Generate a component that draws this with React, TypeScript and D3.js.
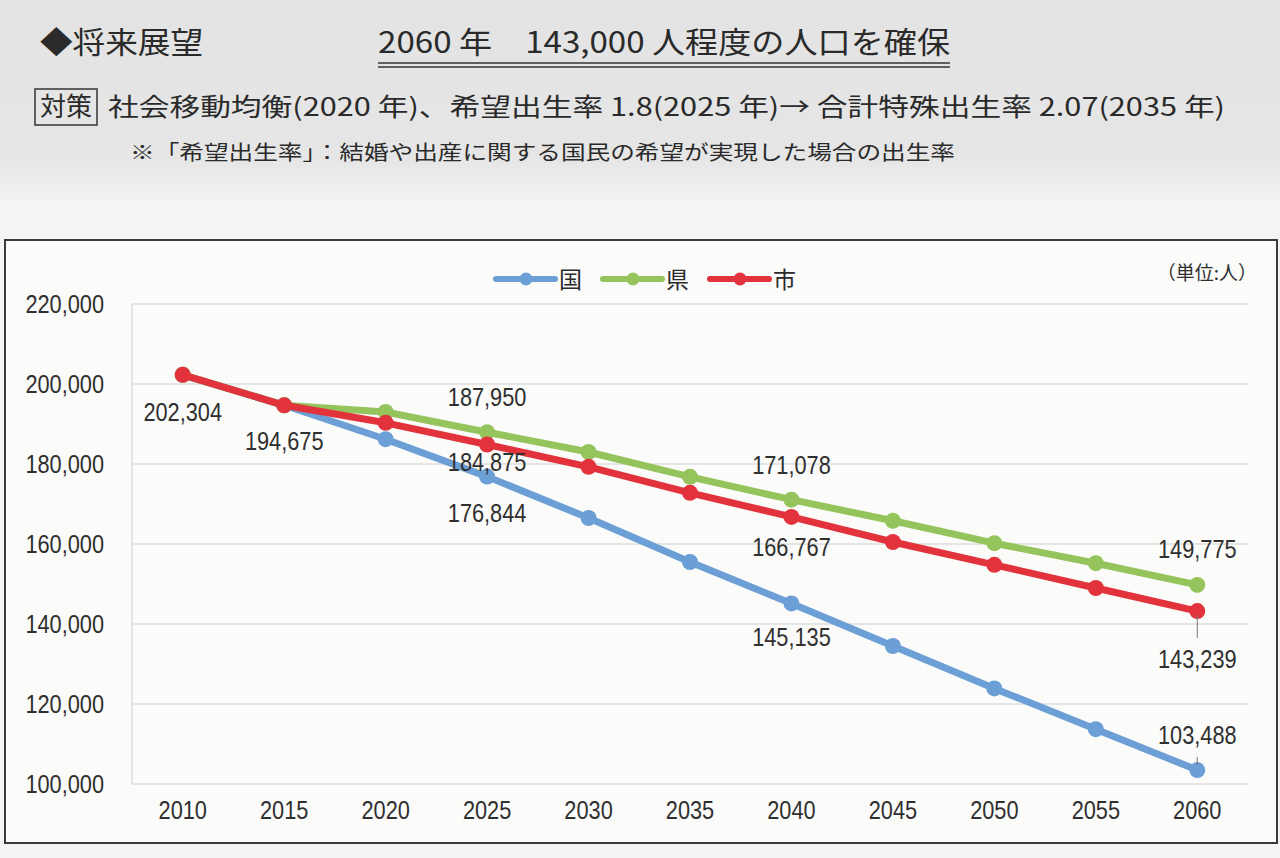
import React from "react";
import * as d3 from "d3";

const years = [2010, 2015, 2020, 2025, 2030, 2035, 2040, 2045, 2050, 2055, 2060];
const kuni = [202304, 194675, 186200, 176844, 166500, 155500, 145135, 134500, 123900, 113700, 103488];
const ken = [202304, 194675, 193000, 187950, 183000, 176800, 171078, 165800, 160200, 155200, 149775];
const shi = [202304, 194675, 190300, 184875, 179300, 172800, 166767, 160500, 154800, 149000, 143239];
const yTicks = [100000, 120000, 140000, 160000, 180000, 200000, 220000];
const seriesNames = ["国", "県", "市"];

const W = 1280, H = 858;
const colors: Record<string, string> = { 国: "#6c9fd6", 県: "#95c45c", 市: "#e2333c" };

// label annotations: which series, which year index, vertical offset, optional leader
const labelSpec = [
  { s: "国", i: 0, dy: 37 },
  { s: "国", i: 1, dy: 36 },
  { s: "県", i: 3, dy: -35 },
  { s: "市", i: 3, dy: 17 },
  { s: "国", i: 3, dy: 36 },
  { s: "県", i: 6, dy: -35 },
  { s: "市", i: 6, dy: 30 },
  { s: "国", i: 6, dy: 34 },
  { s: "県", i: 10, dy: -36 },
  { s: "市", i: 10, dy: 48, leader: [4, 27] },
  { s: "国", i: 10, dy: -35, leader: [-13, -5] },
];

const numFont = "'Liberation Sans', Arial, sans-serif";
const jpFont = "'Noto Sans CJK JP', sans-serif";

function Num({ x, y, anchor = "middle", children }: { x: number; y: number; anchor?: string; children: any }) {
  return (
    <text transform={`translate(${x},${y}) scale(0.87,1)`} dy="0.36em" textAnchor={anchor as any}
      fontFamily={numFont} fontSize={25} fill="#2f2f2f">{children}</text>
  );
}

export default function App() {
  const x = d3.scalePoint<number>().domain(years).range([132, 1248]).padding(0.5);
  const y = d3.scaleLinear().domain([100000, 220000]).range([784, 304]);
  const dataMap: Record<string, number[]> = { 国: kuni, 県: ken, 市: shi };
  const line = d3
    .line<number>()
    .x((_, i) => x(years[i]) as number)
    .y((d) => y(d));
  const fmt = d3.format(",");
  const drawOrder = ["国", "県", "市"];
  const legendX: Record<string, number> = { 国: 496, 県: 603, 市: 710 };

  return (
    <div style={{ position: "absolute", left: 0, top: 0 }}>
      <svg width={W} height={H} viewBox={`0 0 ${W} ${H}`} style={{ display: "block" }}>
        <defs>
          <linearGradient id="bg" x1="0" y1="0" x2="0" y2="1">
            <stop offset="0" stopColor="#e3e3e3" />
            <stop offset="0.8" stopColor="#e6e6e6" />
            <stop offset="1" stopColor="#f2f2f2" />
          </linearGradient>
        </defs>
        <rect x={0} y={0} width={W} height={H} fill="#f4f4f3" />
        <rect x={0} y={0} width={W} height={200} fill="url(#bg)" />

        {/* header */}
        <text x={40} y={42} dy="0.35em" fontFamily={jpFont} fontSize={30} fill="#2a2a2a"
          textLength={163} lengthAdjust="spacingAndGlyphs">◆将来展望</text>
        <text x={378} y={42} dy="0.35em" fontFamily={jpFont} fontSize={30} fill="#2a2a2a"
          textLength={572} lengthAdjust="spacingAndGlyphs">2060 年　143,000 人程度の人口を確保</text>
        <line x1={378} x2={950} y1={63} y2={63} stroke="#333" strokeWidth={1.5} />
        <line x1={378} x2={950} y1={67} y2={67} stroke="#333" strokeWidth={1.5} />
        <rect x={35} y={89} width={62} height={36} fill="none" stroke="#333" strokeWidth={1.5} />
        <text x={66} y={107} dy="0.35em" textAnchor="middle" fontFamily={jpFont} fontSize={26} fill="#2a2a2a">対策</text>
        <text x={108} y={107} dy="0.35em" fontFamily={jpFont} fontSize={25} fill="#2a2a2a"
          textLength={1117} lengthAdjust="spacingAndGlyphs">
          社会移動均衡(2020 年)、希望出生率 1.8(2025 年)→ 合計特殊出生率 2.07(2035 年)
        </text>
        <text x={130} y={153} dy="0.35em" fontFamily={jpFont} fontSize={20} fill="#2a2a2a"
          textLength={825} lengthAdjust="spacingAndGlyphs">
          ※「希望出生率」：結婚や出産に関する国民の希望が実現した場合の出生率
        </text>

        {/* chart box */}
        <rect x={5} y={240} width={1272} height={603} fill="#fbfbfa" stroke="#3a3a3a" strokeWidth={2} />

        {/* grid */}
        {yTicks.map((t) => (
          <line key={t} x1={132} x2={1248} y1={y(t)} y2={y(t)} stroke="#cfcfcf" strokeWidth={1.2} />
        ))}
        <line x1={132} x2={132} y1={y(220000)} y2={y(100000)} stroke="#d6d6d6" strokeWidth={1.2} />

        {/* y axis labels */}
        {yTicks.map((t) => (
          <Num key={t} x={104} y={y(t)} anchor="end">{fmt(t)}</Num>
        ))}
        {/* x axis labels */}
        {years.map((yr) => (
          <Num key={yr} x={x(yr) as number} y={810}>{yr}</Num>
        ))}

        {/* unit */}
        <text x={1257} y={273} dy="0.35em" textAnchor="end" fontFamily={jpFont} fontSize={19} fill="#2f2f2f">
          （単位:人）
        </text>

        {/* legend */}
        {seriesNames.map((s) => {
          const lx = legendX[s];
          return (
            <g key={s}>
              <line x1={lx} x2={lx + 59} y1={279} y2={279} stroke={colors[s]} strokeWidth={6} strokeLinecap="round" />
              <circle cx={lx + 30} cy={279} r={6.5} fill={colors[s]} />
              <text x={lx + 63} y={280} dy="0.35em" fontFamily={jpFont} fontSize={23} fill="#2a2a2a">{s}</text>
            </g>
          );
        })}

        {/* series */}
        {drawOrder.map((s) => (
          <g key={s}>
            <path d={line(dataMap[s]) || ""} fill="none" stroke={colors[s]} strokeWidth={7}
              strokeLinejoin="round" strokeLinecap="round" />
            {dataMap[s].map((v, i) => (
              <circle key={i} cx={x(years[i])} cy={y(v)} r={8} fill={colors[s]} />
            ))}
          </g>
        ))}

        {/* data labels */}
        {labelSpec.map((l, k) => {
          const v = dataMap[l.s][l.i];
          const cx = x(years[l.i]) as number;
          const cy = y(v);
          return (
            <g key={k}>
              {l.leader && (
                <line x1={cx} x2={cx} y1={cy + l.leader[0]} y2={cy + l.leader[1]} stroke="#777" strokeWidth={1} />
              )}
              <Num x={cx} y={cy + l.dy}>{fmt(v)}</Num>
            </g>
          );
        })}
      </svg>
    </div>
  );
}
